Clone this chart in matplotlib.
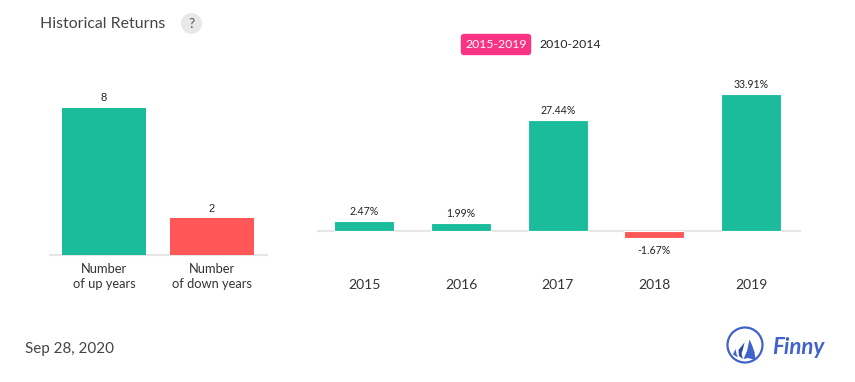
import matplotlib
matplotlib.use("Agg")
import matplotlib.pyplot as plt
from matplotlib.patches import Circle, FancyBboxPatch, Polygon

plt.rcParams['font.family'] = ['Lato', 'DejaVu Sans']

count_labels = ["Number\nof up years", "Number\nof down years"]
count_values = [8, 2]
count_is_up = [True, False]
years = ["2015", "2016", "2017", "2018", "2019"]
returns = [2.47, 1.99, 27.44, -1.67, 33.91]
title = "Historical Returns"
date_text = "Sep 28, 2020"
UP, DOWN = "#1abc9c", "#ff5757"

W, H = 855, 382
fig = plt.figure(figsize=(W / 100, H / 100), dpi=100, facecolor="white")

def px_axes(x0, x1, ytop, ybot):
    ax = fig.add_axes([x0 / W, 1 - ybot / H, (x1 - x0) / W, (ybot - ytop) / H])
    ax.axis("off")
    ax.patch.set_alpha(0)
    return ax

ov = fig.add_axes([0, 0, 1, 1], zorder=5)
ov.set_xlim(0, W); ov.set_ylim(H, 0); ov.axis("off"); ov.patch.set_alpha(0)

# left chart
al = px_axes(50, 267, 71, 255)
al.set_xlim(-0.5, 1.509); al.set_ylim(0, 10)
al.axhline(0, color="#e6e6e6", lw=1.6, zorder=1, clip_on=False)
al.bar(range(2), count_values, width=0.778,
       color=[UP if u else DOWN for u in count_is_up], zorder=2)
for i, v in enumerate(count_values):
    al.annotate(str(v), (i, v), xytext=(0, 3.3), textcoords="offset points",
                ha="center", va="bottom", fontsize=8, color="#222222",
                family=["Liberation Sans"])
for i, lab in enumerate(count_labels):
    al.annotate(lab, (i, 0), xytext=(0, -5.5), textcoords="offset points",
                ha="center", va="top", fontsize=9.3, color="#333333",
                linespacing=1.38, annotation_clip=False)

# right chart
ar = px_axes(316, 799.5, 71, 271)
ar.set_xlim(-0.5, 4.5); ar.set_ylim(-40 / 4.04, 160 / 4.04)
ar.plot([0.005, 1.001], [0.2, 0.2], transform=ar.transAxes, color="#e6e6e6", lw=1.6,
        zorder=1, clip_on=False)
ar.bar(range(5), returns, width=0.62,
       color=[UP if v > 0 else DOWN for v in returns],
       edgecolor="white", linewidth=0.8, zorder=2)
for i, v in enumerate(returns):
    off, va = (3.0, "bottom") if v > 0 else (-5, "top")
    ar.annotate(f"{v:.2f}%", (i, v), xytext=(0, off), textcoords="offset points",
                ha="center", va=va, fontsize=7.6, color="#222222")
for i, y in enumerate(years):
    ar.annotate(y, (i, 0), xytext=(0, -34.7), textcoords="offset points",
                ha="center", va="top", fontsize=10, color="#333333",
                annotation_clip=False)

# header
ov.text(40, 23.5, title, fontsize=11.45, color="#444444", va="center", ha="left")
ov.add_patch(Circle((191.5, 23.5), 10.5, fc="#e8e8e8", ec="none"))
ov.text(191.5, 23.5, "?", fontsize=10, color="#555555", ha="center", va="center")

# range buttons
ov.add_patch(FancyBboxPatch((461.5, 34.5), 69, 20, boxstyle="round,pad=0,rounding_size=2.5",
                            fc="#fb3385", ec="#fb3385", lw=1))
ov.text(496, 45, "2015-2019", fontsize=8.8, color="white", ha="center", va="center")
ov.text(570, 45, "2010-2014", fontsize=8.8, color="#222222", ha="center", va="center")

# footer
ov.text(25, 349, date_text, fontsize=10.9, color="#444444", ha="left", va="center")

# logo
BLUE = "#3f63c8"
ov.add_patch(Circle((745, 345), 17.5, fc="white", ec=BLUE, lw=1.6))
ov.add_patch(Polygon([(749.5, 339.5), (752, 345), (754.5, 352), (755.5, 360), (748, 358),
                      (743.5, 359), (747, 351)],
                     fc=BLUE, ec="none"))
ov.add_patch(Polygon([(744.5, 342.5), (743, 349), (741.5, 354), (743, 359), (739, 356),
                      (738.5, 350)],
                     fc="#2c4aa8", ec="none"))
ov.add_patch(Polygon([(735.5, 349), (736.5, 354), (738, 357.5), (733, 354.5)],
                     fc=BLUE, ec="none"))
ov.text(772, 348, "Finny", fontsize=16, color=BLUE, style="italic", weight="bold",
        ha="left", va="center")

fig.savefig("out.png", dpi=100, facecolor="white")
